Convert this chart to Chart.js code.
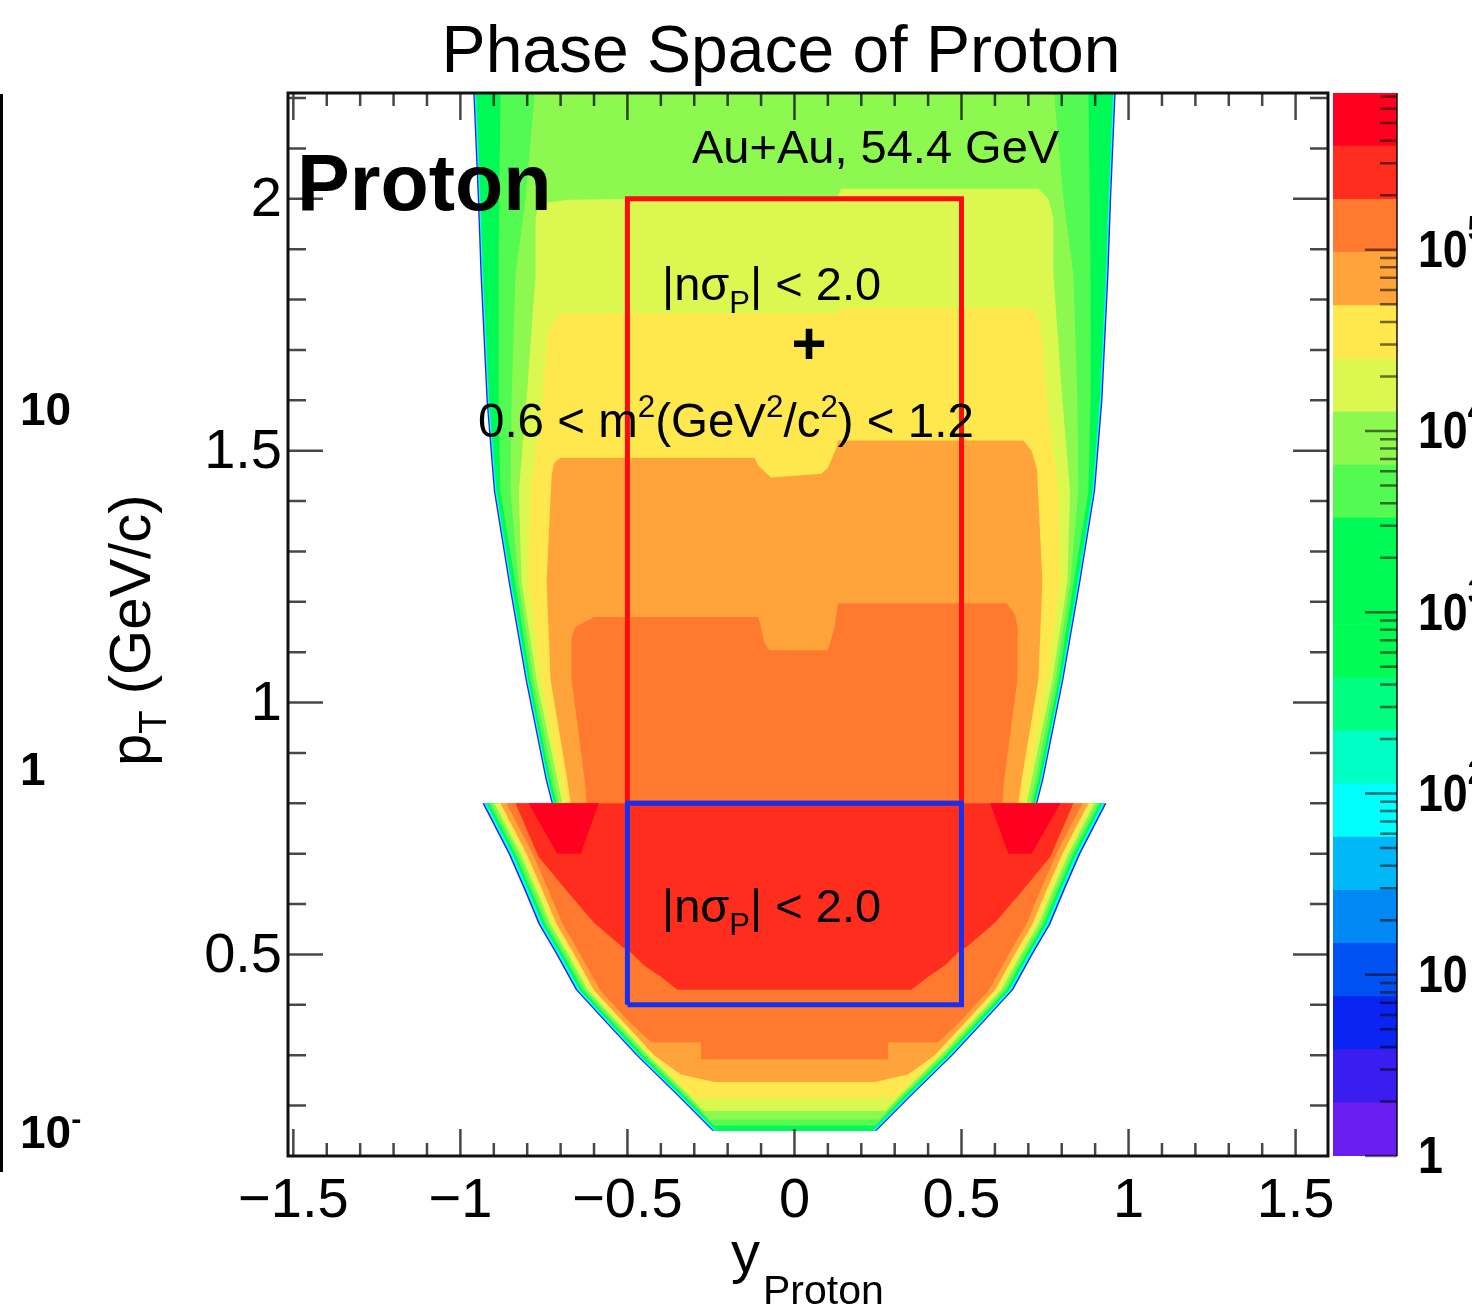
<!DOCTYPE html>
<html>
<head>
<meta charset="utf-8">
<script src="https://cdn.jsdelivr.net/npm/chart.js@4.4.1/dist/chart.umd.min.js"></script>
<style>
    html, body { margin: 0; padding: 0; background: #fff; }
    #wrap { position: relative; width: 1472px; height: 1309px; overflow: hidden; }
    #wrap canvas { position: absolute; left: 0; top: 0; }
</style>
</head>
<body>
<div id="wrap">
    <canvas id="phase" width="1472" height="1309"></canvas>
    <canvas id="palette" width="1472" height="1309"></canvas>
</div>
<script>
const FONT = '"Liberation Sans", Arial, Helvetica, sans-serif';

// Axis ranges and tick labels
const rapidityRange = [-1.516, 1.597];
const ptRange = [0.1, 2.21];
const rapidityTicks = [-1.5, -1, -0.5, 0, 0.5, 1, 1.5];
const rapidityTickLabels = ["\u22121.5", "\u22121", "\u22120.5", "0", "0.5", "1", "1.5"];
const ptTicks = [0.5, 1, 1.5, 2];
const ptTickLabels = ["0.5", "1", "1.5", "2"];

// Colour palette (20 log contours, from 1 up to 10^zMaxLog)
const zMaxLog = 5.865;
const palette = [
    "#6a1ef0", "#3a1ef0", "#0a24f2", "#0050f2", "#0088f5",
    "#00b8f8", "#00ffff", "#00ffc4", "#00ff80", "#00fc55",
    "#00fa55", "#00fa55", "#52fa52", "#8cf850", "#dcf850",
    "#ffe84e", "#ffa43a", "#ff7a2e", "#ff2d1e", "#ff0020"
];
const zLabelPowers = [0, 1, 2, 3, 4, 5];

// Selection windows
const cutRapidity = [-0.5, 0.5];
const tofPt = [0.8, 2.0];
const tpcPt = [0.4, 0.8];

// TOF region (pT > 0.8): half-width |y| of each contour per pT row
const upperPt    = [2.25, 2.0, 1.85, 1.6, 1.42, 1.24, 1.045, 0.847, 0.8];
const upperEdge  = [0.964, 0.948, 0.940, 0.922, 0.900, 0.856, 0.805, 0.745, 0.727];
const upperCyan  = [0.960, 0.944, 0.936, 0.918, 0.896, 0.852, 0.801, 0.741, 0.723];
const upperGreen = [0.956, 0.940, 0.932, 0.914, 0.892, 0.848, 0.797, 0.737, 0.719];
const upperMid   = [0.879, 0.884, 0.886, 0.886, 0.880, 0.836, 0.790, 0.730, 0.712];
const upperLight = [0.772, 0.805, 0.835, 0.847, 0.850, 0.826, 0.781, 0.721, 0.705];

// inner contours: top outline [y, pT] plus side half-widths
const ygTop = [[-0.775, 1.96], [-0.766, 1.99], [-0.676, 1.998], [0.13, 2.005], [0.14, 2.02], [0.73, 2.02], [0.76, 2.0], [0.775, 1.96]];
const ygSidePt = [1.96, 1.85, 1.6, 1.42, 1.24, 1.045, 0.847, 0.8];
const ygSide = [0.775, 0.775, 0.802, 0.825, 0.817, 0.772, 0.71, 0.695];

const yellowTop = [[-0.745, 1.684], [-0.736, 1.74], [-0.70, 1.773], [0.13, 1.773], [0.13, 1.783], [0.715, 1.783], [0.735, 1.75], [0.745, 1.70]];
const yellowSidePt = [1.684, 1.6, 1.42, 1.24, 1.045, 0.847, 0.8];
const yellowSide = [0.745, 0.755, 0.79, 0.796, 0.757, 0.70, 0.688];

const lightOrangeTop = [[-0.727, 1.45], [-0.72, 1.475], [-0.70, 1.486], [-0.12, 1.486], [-0.108, 1.47], [-0.07, 1.447], [0.08, 1.454], [0.10, 1.466], [0.126, 1.506], [0.13, 1.52], [0.685, 1.52], [0.71, 1.50], [0.727, 1.46]];
const lightOrangeSidePt = [1.45, 1.24, 1.045, 0.847, 0.8];
const lightOrangeSide = [0.727, 0.742, 0.730, 0.68, 0.67];

const orangeTop = [[-0.667, 1.13], [-0.655, 1.15], [-0.60, 1.17], [-0.108, 1.17], [-0.09, 1.12], [-0.075, 1.104], [0.10, 1.104], [0.12, 1.15], [0.13, 1.197], [0.635, 1.197], [0.66, 1.175], [0.67, 1.14]];
const orangeSidePt = [1.13, 1.045, 0.847, 0.8];
const orangeSide = [0.667, 0.667, 0.628, 0.622];

// TPC region (pT < 0.8): left half of each contour [y, pT], mirrored at y = 0
const lowerEdge   = [[-0.934, 0.8], [-0.856, 0.7], [-0.81, 0.63], [-0.766, 0.56], [-0.713, 0.5], [-0.655, 0.43], [-0.572, 0.37], [-0.474, 0.3], [-0.351, 0.22], [-0.246, 0.15]];
const lowerCyan   = [[-0.929, 0.8], [-0.851, 0.7], [-0.805, 0.63], [-0.761, 0.56], [-0.708, 0.5], [-0.65, 0.43], [-0.567, 0.37], [-0.469, 0.3], [-0.346, 0.22], [-0.241, 0.15]];
const lowerGreen  = [[-0.922, 0.8], [-0.844, 0.7], [-0.798, 0.63], [-0.754, 0.56], [-0.701, 0.5], [-0.643, 0.43], [-0.56, 0.37], [-0.462, 0.3], [-0.339, 0.22], [-0.234, 0.15]];
const lowerMid    = [[-0.914, 0.8], [-0.836, 0.7], [-0.79, 0.63], [-0.746, 0.56], [-0.693, 0.5], [-0.635, 0.43], [-0.552, 0.37], [-0.454, 0.3], [-0.331, 0.22], [-0.242, 0.16]];
const lowerLight  = [[-0.906, 0.8], [-0.828, 0.7], [-0.782, 0.63], [-0.738, 0.56], [-0.685, 0.5], [-0.627, 0.43], [-0.544, 0.37], [-0.446, 0.3], [-0.323, 0.22], [-0.253, 0.172]];
const lowerYG     = [[-0.898, 0.8], [-0.82, 0.7], [-0.774, 0.63], [-0.73, 0.56], [-0.677, 0.5], [-0.619, 0.43], [-0.536, 0.37], [-0.438, 0.3], [-0.315, 0.22], [-0.273, 0.19]];
const lowerYellow = [[-0.89, 0.8], [-0.812, 0.7], [-0.766, 0.63], [-0.722, 0.56], [-0.669, 0.5], [-0.611, 0.43], [-0.528, 0.37], [-0.43, 0.3], [-0.307, 0.22], [-0.299, 0.215]];
const lowerLightOrange = [[-0.88, 0.8], [-0.802, 0.7], [-0.756, 0.63], [-0.712, 0.56], [-0.659, 0.5], [-0.601, 0.43], [-0.518, 0.37], [-0.42, 0.3], [-0.34, 0.262], [-0.24, 0.247]];
const lowerOrange = [[-0.862, 0.8], [-0.784, 0.7], [-0.738, 0.63], [-0.694, 0.56], [-0.641, 0.5], [-0.583, 0.43], [-0.50, 0.37], [-0.43, 0.326], [-0.28, 0.326], [-0.28, 0.292]];
const lowerRedOrange = [[-0.835, 0.8], [-0.766, 0.694], [-0.685, 0.629], [-0.60, 0.563], [-0.517, 0.516], [-0.49, 0.504], [-0.45, 0.478], [-0.40, 0.456], [-0.35, 0.43]];
const redSpot = [[-0.796, 0.8], [-0.586, 0.8], [-0.64, 0.70], [-0.71, 0.70]];

// ---------- polygon helpers ----------
function toXY(pts) {
    return pts.map(([x, y]) => ({ x, y }));
}

function mirror(left) {
    const right = left.slice().reverse().map(([y, p]) => [-y, p]);
    const pts = left.concat(right);
    pts.push(pts[0]);
    return toXY(pts);
}

function symBand(pts, widths) {
    return mirror(pts.map((p, i) => [-widths[i], p]));
}

function topBand(top, sidePt, side) {
    const right = sidePt.map((p, i) => [side[i], p]);
    const left = sidePt.map((p, i) => [-side[i], p]).reverse();
    const pts = top.concat(right, left);
    pts.push(top[0]);
    return toXY(pts);
}

function closed(pts) {
    return toXY(pts.concat([pts[0]]));
}

function flipped(pts) {
    return pts.map(([y, p]) => [-y, p]);
}

function band(data, level) {
    return {
        data,
        showLine: true,
        fill: "shape",
        backgroundColor: palette[level],
        borderColor: palette[level],
        borderWidth: 0,
        pointRadius: 0
    };
}

function box(ys, pts, color) {
    return {
        data: closed([[ys[0], pts[0]], [ys[1], pts[0]], [ys[1], pts[1]], [ys[0], pts[1]]]),
        showLine: true,
        fill: false,
        borderColor: color,
        borderWidth: 5,
        borderJoinStyle: "miter",
        pointRadius: 0
    };
}

// layers listed bottom to top
const layers = [
    band(symBand(upperPt, upperEdge), 1),
    band(symBand(upperPt, upperCyan), 6),
    band(symBand(upperPt, upperGreen), 10),
    band(symBand(upperPt, upperMid), 12),
    band(symBand(upperPt, upperLight), 13),
    band(topBand(ygTop, ygSidePt, ygSide), 14),
    band(topBand(yellowTop, yellowSidePt, yellowSide), 15),
    band(topBand(lightOrangeTop, lightOrangeSidePt, lightOrangeSide), 16),
    band(topBand(orangeTop, orangeSidePt, orangeSide), 17),
    band(mirror(lowerEdge), 1),
    band(mirror(lowerCyan), 6),
    band(mirror(lowerGreen), 10),
    band(mirror(lowerMid), 12),
    band(mirror(lowerLight), 13),
    band(mirror(lowerYG), 14),
    band(mirror(lowerYellow), 15),
    band(mirror(lowerLightOrange), 16),
    band(mirror(lowerOrange), 17),
    band(mirror(lowerRedOrange), 18),
    band(closed(redSpot), 19),
    band(closed(flipped(redSpot)), 19),
    box(cutRapidity, tofPt, "#ff0a10"),
    box(cutRapidity, tpcPt, "#1530f0")
];

// ---------- text helpers ----------
function rich(ctx, x, y, parts, size, weight) {
    let cx = x;
    parts.forEach(([t, kind]) => {
        const s = kind ? size * 0.66 : size;
        const dy = kind === "sub" ? size * 0.28 : kind === "sup" ? -size * 0.42 : 0;
        ctx.font = `${weight || ""} ${s}px ${FONT}`;
        ctx.fillText(t, cx, y + dy);
        cx += ctx.measureText(t).width;
    });
}

const nsigmaText = [["|n\u03c3"], ["P", "sub"], ["| < 2.0"]];
const massText = [["0.6 < m"], ["2", "sup"], ["(GeV"], ["2", "sup"], ["/c"], ["2", "sup"], [") < 1.2"]];

// frame, inner ticks and labels in ROOT style
const rootFrame = {
    id: "rootFrame",
    afterDatasetsDraw(chart) {
        const { ctx, chartArea: a, scales } = chart;
        const sx = scales.x, sy = scales.y;
        ctx.save();
        ctx.strokeStyle = "rgba(0,0,0,0.72)";
        ctx.lineWidth = 2.5;
        ctx.beginPath();
        for (let i = -16; i <= 16; i++) {
            const v = i / 10;
            if (v <= sx.min || v >= sx.max) continue;
            const px = sx.getPixelForValue(v);
            const len = i % 5 === 0 ? 27 : 13;
            ctx.moveTo(px, a.bottom); ctx.lineTo(px, a.bottom - len);
            ctx.moveTo(px, a.top); ctx.lineTo(px, a.top + len);
        }
        for (let i = 1; i <= 22; i++) {
            const v = i / 10;
            if (v <= sy.min || v >= sy.max) continue;
            const py = sy.getPixelForValue(v);
            const len = i % 5 === 0 ? 35 : 18;
            ctx.moveTo(a.left, py); ctx.lineTo(a.left + len, py);
            ctx.moveTo(a.right, py); ctx.lineTo(a.right - len, py);
        }
        ctx.stroke();
        ctx.strokeStyle = "#111";
        ctx.lineWidth = 3;
        ctx.strokeRect(a.left, a.top, a.right - a.left, a.bottom - a.top);
        ctx.restore();
    },
    afterDraw(chart) {
        const { ctx, chartArea: a, scales } = chart;
        const sx = scales.x, sy = scales.y;
        ctx.save();
        ctx.fillStyle = "#000";

        // tick labels
        ctx.font = `56px ${FONT}`;
        ctx.textAlign = "center";
        ctx.textBaseline = "alphabetic";
        rapidityTicks.forEach((v, i) => ctx.fillText(rapidityTickLabels[i], sx.getPixelForValue(v), 1217));
        ctx.textAlign = "right";
        ctx.textBaseline = "middle";
        ptTicks.forEach((v, i) => ctx.fillText(ptTickLabels[i], a.left - 6, sy.getPixelForValue(v) + 2));

        // title
        ctx.textAlign = "center";
        ctx.textBaseline = "alphabetic";
        ctx.font = `66px ${FONT}`;
        ctx.fillText("Phase Space of Proton", 781, 72);

        // axis titles
        ctx.textAlign = "left";
        ctx.font = `58px ${FONT}`;
        ctx.fillText("y", 731, 1272);
        ctx.font = `41px ${FONT}`;
        ctx.fillText("Proton", 763, 1304);
        ctx.save();
        ctx.translate(150, 766);
        ctx.rotate(-Math.PI / 2);
        rich(ctx, 0, 0, [["p"], ["T", "sub"], [" (GeV/c)"]], 58);
        ctx.restore();

        // labels inside the frame
        ctx.font = `bold 79px ${FONT}`;
        ctx.fillText("Proton", 297, 210);
        ctx.font = `47px ${FONT}`;
        ctx.fillText("Au+Au, 54.4 GeV", 692, 163);
        rich(ctx, 662, 300, nsigmaText, 47);
        rich(ctx, 478, 437, massText, 47.5);
        rich(ctx, 662, 922, nsigmaText, 47);
        ctx.font = `bold 60px ${FONT}`;
        ctx.textAlign = "center";
        ctx.textBaseline = "middle";
        ctx.fillText("+", 809, 347);

        // edge of the neighbouring panel
        ctx.fillRect(0, 94, 3, 1078);
        ctx.textAlign = "left";
        ctx.textBaseline = "alphabetic";
        ctx.font = `bold 46px ${FONT}`;
        ctx.fillText("10", 20, 425);
        ctx.fillText("1", 20, 785);
        rich(ctx, 20, 1148, [["10"], ["-", "sup"]], 46, "bold");
        ctx.restore();
    }
};

new Chart(document.getElementById("phase"), {
    type: "scatter",
    data: { datasets: layers.slice().reverse() },
    options: {
        responsive: false,
        animation: false,
        devicePixelRatio: 1,
        layout: { padding: { left: 288, right: 144, top: 93, bottom: 153 } },
        scales: {
            x: { type: "linear", min: rapidityRange[0], max: rapidityRange[1], display: false },
            y: { type: "linear", min: ptRange[0], max: ptRange[1], display: false }
        },
        elements: { line: { tension: 0 }, point: { radius: 0 } },
        plugins: { legend: { display: false }, tooltip: { enabled: false } }
    },
    plugins: [rootFrame]
});

// ---------- colour bar ----------
const contourEdges = palette.map((c, i) => Math.pow(10, zMaxLog * i / palette.length));
contourEdges.push(Math.pow(10, zMaxLog));

const paletteAxis = {
    id: "paletteAxis",
    afterDatasetsDraw(chart) {
        const { ctx, chartArea: a, scales: { y } } = chart;
        ctx.save();
        ctx.strokeStyle = "rgba(0,0,0,0.55)";
        ctx.lineWidth = 2.5;
        ctx.beginPath();
        for (let d = 0; d <= 5; d++) {
            for (let m = 1; m <= 9; m++) {
                const v = m * Math.pow(10, d);
                if (v > y.max) break;
                const py = y.getPixelForValue(v);
                const len = m === 1 ? 32 : 17;
                ctx.moveTo(a.right, py);
                ctx.lineTo(a.right - len, py);
            }
        }
        ctx.stroke();
        ctx.strokeStyle = "rgba(0,0,0,0.7)";
        ctx.lineWidth = 2;
        ctx.beginPath();
        ctx.moveTo(a.right, a.top);
        ctx.lineTo(a.right, a.bottom);
        ctx.stroke();

        ctx.fillStyle = "#000";
        ctx.textBaseline = "middle";
        zLabelPowers.forEach(p => {
            const py = y.getPixelForValue(Math.pow(10, p)) + 3;
            ctx.save();
            ctx.translate(1418, py);
            ctx.scale(0.86, 1);
            const parts = p === 0 ? [["1"]] : p === 1 ? [["10"]] : [["10"], [String(p), "sup"]];
            rich(ctx, 0, 0, parts, 52, "bold");
            ctx.restore();
        });
        ctx.restore();
    }
};

new Chart(document.getElementById("palette"), {
    type: "bar",
    data: {
        labels: ["z"],
        datasets: palette.map((c, i) => ({
            data: [[contourEdges[i], contourEdges[i + 1]]],
            backgroundColor: c,
            borderWidth: 0,
            grouped: false,
            barPercentage: 1,
            categoryPercentage: 1
        }))
    },
    options: {
        responsive: false,
        animation: false,
        devicePixelRatio: 1,
        layout: { padding: { left: 1333, right: 75, top: 93, bottom: 153 } },
        scales: {
            x: { display: false },
            y: { type: "logarithmic", min: 1, max: contourEdges[palette.length], display: false }
        },
        plugins: { legend: { display: false }, tooltip: { enabled: false } }
    },
    plugins: [paletteAxis]
});
</script>
</body>
</html>
